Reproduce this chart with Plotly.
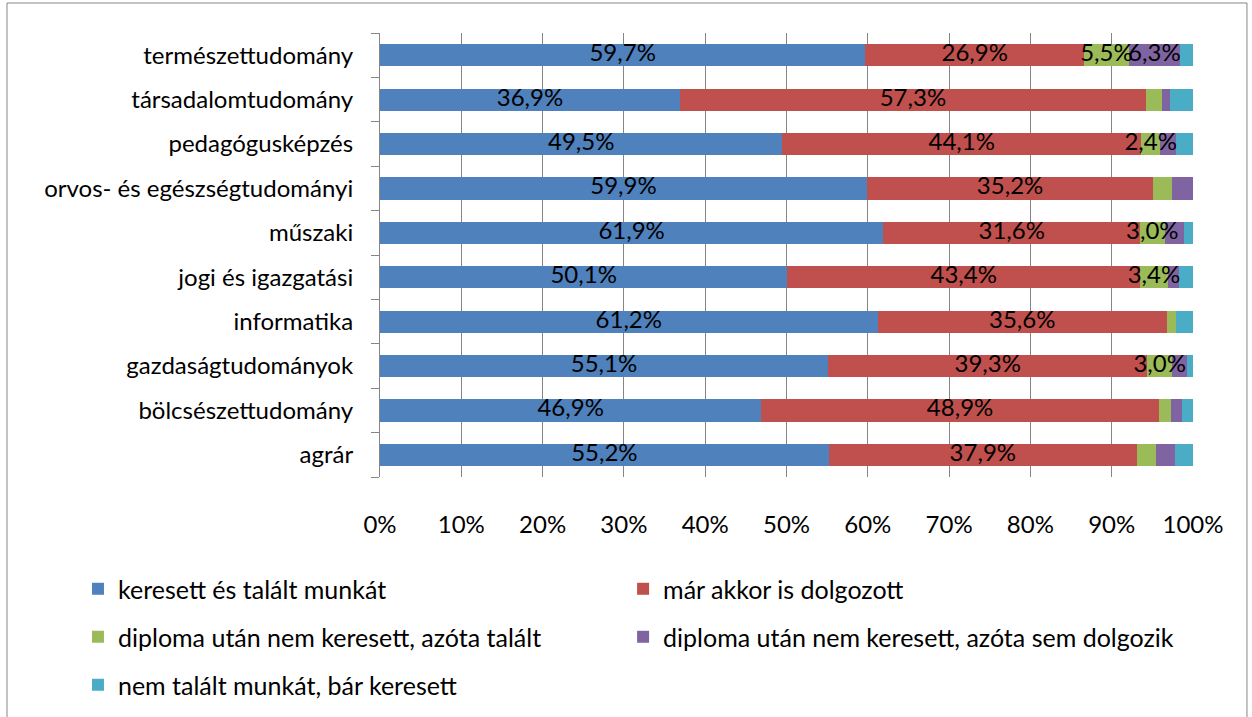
import plotly.graph_objects as go

categories = ["agrár", "bölcsészettudomány", "gazdaságtudományok", "informatika",
              "jogi és igazgatási", "műszaki", "orvos- és egészségtudományi",
              "pedagógusképzés", "társadalomtudomány", "természettudomány"]

series_names = ["keresett és talált munkát", "már akkor is dolgozott",
                "diploma után nem keresett, azóta talált",
                "diploma után nem keresett, azóta sem dolgozik",
                "nem talált munkát, bár keresett"]

kereset_talalt = [55.2, 46.9, 55.1, 61.2, 50.1, 61.9, 59.9, 49.5, 36.9, 59.7]
mar_dolgozott = [37.9, 48.9, 39.3, 35.6, 43.4, 31.6, 35.2, 44.1, 57.3, 26.9]
nem_kereset_talalt = [2.3, 1.5, 3.0, 1.1, 3.4, 3.0, 2.3, 2.4, 2.0, 5.5]
nem_kereset_sem = [2.4, 1.4, 1.9, 0.0, 1.4, 2.4, 2.6, 1.9, 1.0, 6.3]
nem_talalt = [2.2, 1.3, 0.7, 2.1, 1.7, 1.1, 0.0, 2.1, 2.8, 1.6]

x_ticks = list(range(0, 101, 10))
x_tick_labels = [f"{v}%" for v in x_ticks]

# which small segments carry a visible label in the original
green_labeled = [False, False, True, False, True, True, False, True, False, True]
purple_labeled = [False, False, False, False, False, False, False, False, False, True]

colors = ["#4F81BD", "#C0504D", "#9BBB59", "#8064A2", "#4BACC6"]

def fmt(v):
    return f"{v:.1f}%".replace(".", ",")

all_series = [kereset_talalt, mar_dolgozott, nem_kereset_talalt, nem_kereset_sem, nem_talalt]
label_masks = [[True] * 10, [True] * 10, green_labeled, purple_labeled, [False] * 10]

FONT = "Lato"
FS = 24
LFS = 25

legend_names = ["legend", "legend2", "legend3", "legend4", "legend5"]
# legend item layout in the original: two columns, three rows
legend_pos = [(-0.3715, -0.2523), (0.2990, -0.2523),
              (-0.3715, -0.3604), (0.2990, -0.3604),
              (-0.3715, -0.4685)]

fig = go.Figure()
for name, vals, col, lg in zip(series_names, all_series, colors, legend_names):
    fig.add_trace(go.Bar(
        y=categories, x=vals, name=name, orientation="h",
        marker=dict(color=col, line=dict(width=0)),
        hoverinfo="x+y+name", legend=lg,
    ))

# data labels drawn on top of all bars, at the centre of each segment
cum = [0.0] * len(categories)
for vals, mask in zip(all_series, label_masks):
    xs, ys, ts = [], [], []
    for i, (v, m) in enumerate(zip(vals, mask)):
        if m:
            xs.append(cum[i] + v / 2)
            ys.append(categories[i])
            ts.append(fmt(v))
        cum[i] += v
    fig.add_trace(go.Scatter(
        x=xs, y=ys, text=ts, mode="text", textposition="middle center",
        textfont=dict(color="black", size=FS, family=FONT),
        showlegend=False, hoverinfo="skip",
    ))

layout_legends = {}
for lg, (lx, ly) in zip(legend_names, legend_pos):
    layout_legends[lg] = dict(x=lx, y=ly, xanchor="left", yanchor="middle",
                              orientation="h", itemwidth=30,
                              bgcolor="rgba(0,0,0,0)",
                              font=dict(size=LFS, family=FONT, color="black"))

fig.update_layout(
    barmode="stack",
    bargap=0.5,
    width=1252, height=717,
    margin=dict(l=380, r=59, t=33, b=240, autoexpand=False),
    paper_bgcolor="white", plot_bgcolor="white",
    font=dict(family=FONT, size=FS, color="black"),
    xaxis=dict(range=[0, 100], tickvals=x_ticks, ticktext=x_tick_labels,
               showgrid=True, gridcolor="#868686", gridwidth=1,
               zeroline=False, showline=False, ticks="",
               tickfont=dict(size=FS, family=FONT), ticklabelstandoff=31,
               automargin=False),
    yaxis=dict(showline=True, linecolor="#868686", linewidth=1,
               ticks="outside", ticklen=8, tickcolor="#868686",
               tickson="boundaries", showgrid=False,
               tickfont=dict(size=FS, family=FONT), ticklabelstandoff=21,
               automargin=False),
    showlegend=True,
    **layout_legends,
)

fig.add_shape(type="rect", xref="paper", yref="paper",
              x0=-0.4588, x1=1.0664, y0=-0.6, y1=1.0676,
              line=dict(color="#868686", width=1), fillcolor="rgba(0,0,0,0)",
              layer="below")

fig.write_html("out.html", post_script="document.body.style.margin='0';",
               config={"displayModeBar": False})
